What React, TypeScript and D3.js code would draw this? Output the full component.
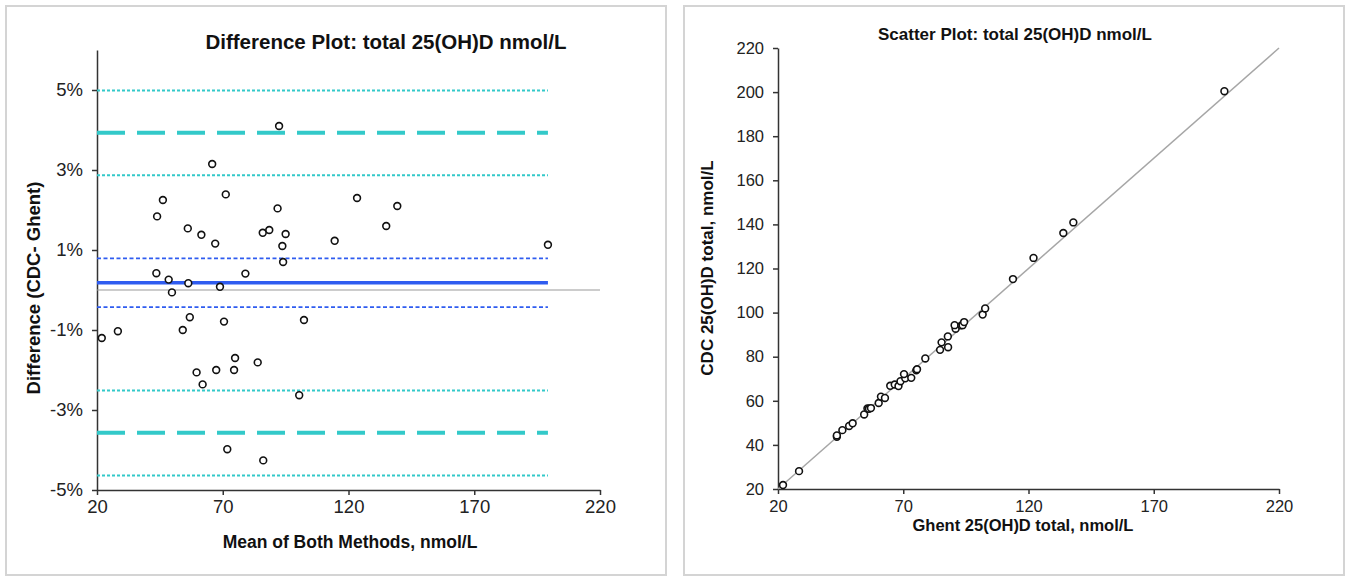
import * as d3 from "d3";
import { useEffect, useRef } from "react";

// Difference plot data (mean of both methods, % difference CDC - Ghent)
const meanVals = [
  21.9, 28.3, 43.6, 43.9, 46.2, 48.5, 49.8, 54.1, 56.1, 56.3, 56.9, 59.6, 61.5, 62.0,
  65.8, 67.0, 67.4, 68.9, 70.5, 71.2, 71.8, 74.5, 74.9, 79.0, 83.9, 86.1, 85.9, 88.5,
  91.8, 92.4, 93.7, 94.0, 95.0, 100.4, 102.3, 114.5, 123.4, 135.0, 139.4, 199.3
];
const diffPct = [
  -1.2, -1.03, 0.42, 1.84, 2.25, 0.26, -0.06, -1.0, 1.54, 0.17, -0.68, -2.06, 1.38, -2.36,
  3.15, 1.16, -2.0, 0.08, -0.79, 2.39, -3.98, -2.0, -1.7, 0.41, -1.81, -4.26, 1.43, 1.5,
  2.04, 4.1, 1.1, 0.7, 1.4, -2.63, -0.75, 1.23, 2.3, 1.6, 2.1, 1.13
];

// Reference lines on difference plot (%)
const meanBias = 0.18;
const meanBiasCI = [0.79, -0.43];
const limitsOfAgreement = [3.93, -3.57];
const limitsCI = [4.99, 2.87, -2.51, -4.64];

// Scatter plot data
const ghent = [
  22.0, 28.4, 43.5, 43.5, 45.7, 48.4, 49.8, 54.4, 55.7, 56.3, 57.1, 60.2, 61.1, 62.7,
  64.8, 66.6, 68.1, 68.9, 70.8, 70.3, 73.2, 75.2, 75.5, 78.8, 84.7, 87.9, 85.3, 87.8,
  90.9, 90.5, 93.2, 93.7, 94.3, 101.7, 102.7, 113.8, 122.0, 133.9, 137.9, 198.2
];
const cdc = [
  21.8, 28.1, 43.7, 44.3, 46.7, 48.6, 49.8, 53.8, 56.5, 56.4, 56.7, 59.0, 61.9, 61.3,
  66.8, 67.4, 66.7, 68.9, 70.2, 72.1, 70.4, 73.8, 74.3, 79.2, 83.1, 84.3, 86.5, 89.2,
  92.7, 94.3, 94.2, 94.3, 95.7, 99.1, 101.9, 115.2, 124.8, 136.1, 140.9, 200.4
];

// Tick labels
const diffXTicks = [20, 70, 120, 170, 220];
const diffYTicks = [-5, -3, -1, 1, 3, 5];
const scatterXTicks = [20, 70, 120, 170, 220];
const scatterYTicks = [20, 40, 60, 80, 100, 120, 140, 160, 180, 200, 220];

const FONT = "'Liberation Sans', Arial, Helvetica, sans-serif";
const CYAN = "#33c9c9";
const BLUE = "#2f5cf0";

const styleAxis = (size) => (g) => {
  g.select(".domain").attr("stroke", "#333").attr("stroke-width", 1.5);
  g.selectAll(".tick line").attr("stroke", "#333").attr("stroke-width", 1.5);
  g.selectAll(".tick text")
    .attr("fill", "#222")
    .style("font-family", FONT)
    .style("font-size", `${size}px`);
};

const drawCharts = (node) => {
  const svg = d3.select(node);
  svg.selectAll("*").remove();

  // Panel frames
  svg.append("rect")
    .attr("x", 6).attr("y", 6).attr("width", 660).attr("height", 569)
    .attr("fill", "#fff").attr("stroke", "#d4d4d4").attr("stroke-width", 2);
  svg.append("rect")
    .attr("x", 684).attr("y", 6).attr("width", 660).attr("height", 569)
    .attr("fill", "#fff").attr("stroke", "#d4d4d4").attr("stroke-width", 2);

  // ---------- Difference plot ----------
  const x1 = d3.scaleLinear().domain([20, 220]).range([97, 600]);
  const y1 = d3.scaleLinear().domain([-5, 6]).range([490, 50]);
  const xEnd = d3.max(meanVals);

  const left = svg.append("g");

  left.append("g")
    .attr("transform", `translate(0,${y1(-5)})`)
    .call(d3.axisBottom(x1).tickValues(diffXTicks).tickSize(5).tickSizeOuter(0).tickPadding(5))
    .call(styleAxis(18.5));

  left.append("g")
    .attr("transform", `translate(${x1(20)},0)`)
    .call(d3.axisLeft(y1).tickValues(diffYTicks).tickSize(5).tickSizeOuter(0).tickPadding(9)
      .tickFormat(d => `${d}%`))
    .call(styleAxis(18.5));

  const hLine = (val, x2, stroke, width, dash) => {
    left.append("line")
      .attr("x1", x1(20)).attr("x2", x1(x2))
      .attr("y1", y1(val)).attr("y2", y1(val))
      .attr("stroke", stroke).attr("stroke-width", width)
      .attr("stroke-dasharray", dash);
  };

  hLine(0, 220, "#999", 1.2, null);
  limitsCI.forEach(v => hLine(v, xEnd, CYAN, 2, "3 2"));
  limitsOfAgreement.forEach(v => hLine(v, xEnd, CYAN, 4, "28 12"));
  meanBiasCI.forEach(v => hLine(v, xEnd, BLUE, 1.8, "4 2.5"));
  hLine(meanBias, xEnd, BLUE, 3.5, null);

  left.append("g")
    .selectAll("circle")
    .data(meanVals)
    .join("circle")
    .attr("cx", d => x1(d))
    .attr("cy", (d, i) => y1(diffPct[i]))
    .attr("r", 3.4)
    .attr("fill", "#fff")
    .attr("stroke", "#111")
    .attr("stroke-width", 1.6);

  left.append("text")
    .attr("x", 386).attr("y", 49)
    .attr("text-anchor", "middle")
    .style("font-family", FONT).style("font-size", "20.5px").style("font-weight", "bold")
    .attr("fill", "#111")
    .text("Difference Plot: total 25(OH)D nmol/L");

  left.append("text")
    .attr("x", 350).attr("y", 548)
    .attr("text-anchor", "middle")
    .style("font-family", FONT).style("font-size", "17.5px").style("font-weight", "bold")
    .attr("fill", "#111")
    .text("Mean of Both Methods, nmol/L");

  left.append("text")
    .attr("transform", "translate(40,288) rotate(-90)")
    .attr("text-anchor", "middle")
    .style("font-family", FONT).style("font-size", "18.5px").style("font-weight", "bold")
    .attr("fill", "#111")
    .text("Difference (CDC- Ghent)");

  // ---------- Scatter plot ----------
  const x2 = d3.scaleLinear().domain([20, 220]).range([778, 1279]);
  const y2 = d3.scaleLinear().domain([20, 220]).range([489, 48]);

  const right = svg.append("g");

  right.append("g")
    .attr("transform", `translate(0,${y2(20)})`)
    .call(d3.axisBottom(x2).tickValues(scatterXTicks).tickSize(5).tickSizeOuter(0).tickPadding(6))
    .call(styleAxis(16.5));

  right.append("g")
    .attr("transform", `translate(${x2(20)},0)`)
    .call(d3.axisLeft(y2).tickValues(scatterYTicks).tickSize(5).tickSizeOuter(0).tickPadding(9))
    .call(styleAxis(16.5));

  // identity line
  right.append("line")
    .attr("x1", x2(20)).attr("y1", y2(20))
    .attr("x2", x2(220)).attr("y2", y2(220))
    .attr("stroke", "#a6a6a6").attr("stroke-width", 1.5);

  right.append("g")
    .selectAll("circle")
    .data(ghent)
    .join("circle")
    .attr("cx", d => x2(d))
    .attr("cy", (d, i) => y2(cdc[i]))
    .attr("r", 3.4)
    .attr("fill", "#fff")
    .attr("stroke", "#111")
    .attr("stroke-width", 1.6);

  right.append("text")
    .attr("x", 1015).attr("y", 40)
    .attr("text-anchor", "middle")
    .style("font-family", FONT).style("font-size", "17px").style("font-weight", "bold")
    .attr("fill", "#111")
    .text("Scatter Plot: total 25(OH)D nmol/L");

  right.append("text")
    .attr("x", 1023).attr("y", 531)
    .attr("text-anchor", "middle")
    .style("font-family", FONT).style("font-size", "16.5px").style("font-weight", "bold")
    .attr("fill", "#111")
    .text("Ghent 25(OH)D total, nmol/L");

  right.append("text")
    .attr("transform", "translate(713,268) rotate(-90)")
    .attr("text-anchor", "middle")
    .style("font-family", FONT).style("font-size", "17px").style("font-weight", "bold")
    .attr("fill", "#111")
    .text("CDC 25(OH)D total, nmol/L");
};

export default function App() {
  const ref = useRef(null);

  useEffect(() => {
    drawCharts(ref.current);
  }, []);

  return (
    <svg
      ref={ref}
      width={1351}
      height={579}
      style={{ position: "absolute", left: 0, top: 0, background: "#fff" }}
    />
  );
}
